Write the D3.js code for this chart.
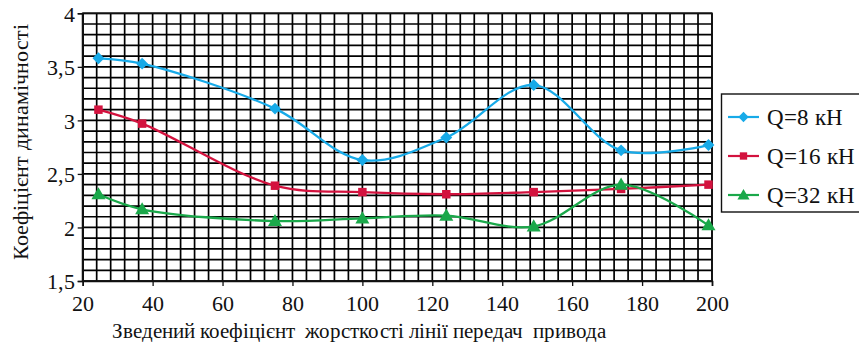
<!DOCTYPE html>
<html>
<head>
<meta charset="utf-8">
<style>
  @font-face { font-family: "ChartSerif"; src: local("Liberation Serif"), local("LiberationSerif"), local("Times New Roman"), local("Tinos"); font-weight: normal; font-style: normal; }
</style>
<script src="https://cdn.jsdelivr.net/npm/d3@7"></script>
</head>
<body style="margin:0;padding:0;background:#fff">
<svg id="chart" width="859" height="347" style="display:block"></svg>
<script>
// Reduced stiffness of the drive transmission line (x positions of measurements)
const stiffness = [24.5, 37, 75, 100, 124, 149, 174, 199];

// Dynamic coefficient for each load
const q8  = [3.58, 3.53, 3.11, 2.63, 2.84, 3.33, 2.72, 2.77];
const q16 = [3.10, 2.97, 2.39, 2.33, 2.31, 2.33, 2.36, 2.40];
const q32 = [2.31, 2.17, 2.06, 2.085, 2.11, 2.01, 2.40, 2.02];

const seriesNames = ["Q=8 кН", "Q=16 кН", "Q=32 кН"];
const xTicks = [20, 40, 60, 80, 100, 120, 140, 160, 180, 200];
const yTicks = [1.5, 2, 2.5, 3, 3.5, 4];

const FONT = "ChartSerif, \"Liberation Serif\", Tinos, \"Times New Roman\", FreeSerif, serif";

// Apply the serif face and size to a text selection
function serif(sel, size) {
  sel.each(function () {
    this.setAttribute("font-family", FONT);
    this.setAttribute("font-size", size);
    this.style.setProperty("font-family", FONT, "important");
    this.style.setProperty("font-size", size + "px", "important");
  });
  return sel;
}

const series = [
  { name: seriesNames[0], values: q8,  color: "#17aae8", symbol: d3.symbolDiamond2, size: 90 },
  { name: seriesNames[1], values: q16, color: "#d3123e", symbol: d3.symbolSquare,   size: 72 },
  { name: seriesNames[2], values: q32, color: "#1aa84a", symbol: d3.symbolTriangle, size: 85 }
];

const svg = d3.select("#chart");
const plotL = 82.7, plotR = 712, plotT = 13.3, plotB = 281;

const x = d3.scaleLinear().domain([20, 200]).range([plotL, plotR]);
const y = d3.scaleLinear().domain([1.5, 4]).range([plotB, plotT]);

// Fine grid: every 4 units horizontally, every 0.1 vertically
const grid = svg.append("g").attr("stroke", "#000").attr("stroke-width", 1.7);
d3.range(20, 200.001, 4).forEach(v => {
  grid.append("line").attr("x1", x(v)).attr("x2", x(v)).attr("y1", plotT).attr("y2", plotB);
});
d3.range(0, 26).forEach(i => {
  const v = 1.5 + i * 0.1;
  grid.append("line").attr("x1", plotL).attr("x2", plotR).attr("y1", y(v)).attr("y2", y(v));
});

// Axes
const fmt = d => d3.format("")(d).replace(".", ",");
const yAxis = svg.append("g")
  .attr("transform", `translate(${plotL},0)`)
  .call(d3.axisLeft(y).tickValues(yTicks).tickFormat(fmt).tickSize(5).tickPadding(3));
const xAxis = svg.append("g")
  .attr("transform", `translate(0,${plotB})`)
  .call(d3.axisBottom(x).tickValues(xTicks).tickSize(5).tickPadding(9));
[yAxis, xAxis].forEach(a => {
  a.attr("font-family", FONT).attr("font-size", 22);
  a.select(".domain").attr("stroke", "#111").attr("stroke-width", 1.6);
  a.selectAll(".tick line").attr("stroke", "#111").attr("stroke-width", 1.3);
  serif(a.selectAll("text"), 22).attr("fill", "#111");
});
yAxis.selectAll("text").attr("dy", "0.35em");

// Plot frame
svg.append("rect")
  .attr("x", plotL).attr("y", plotT).attr("width", plotR - plotL).attr("height", plotB - plotT)
  .attr("fill", "none").attr("stroke", "#111").attr("stroke-width", 1.6);

// Smoothed series lines and markers
const line = d3.line()
  .x((d, i) => x(stiffness[i]))
  .y(d => y(d))
  .curve(d3.curveCatmullRom.alpha(0.5));

series.forEach(s => {
  svg.append("path")
    .attr("d", line(s.values))
    .attr("fill", "none")
    .attr("stroke", s.color)
    .attr("stroke-width", 2.3);
  svg.append("g").selectAll("path")
    .data(s.values)
    .join("path")
    .attr("transform", (d, i) => `translate(${x(stiffness[i])},${y(d) + (s.symbol === d3.symbolTriangle ? 1 : 0)})`)
    .attr("d", d3.symbol(s.symbol, s.size))
    .attr("fill", s.color);
});

// Axis titles
serif(svg.append("text"), 22)
  .attr("transform", "translate(28,142) rotate(-90)")
  .attr("text-anchor", "middle")
  .attr("fill", "#111")
  .text("Коефіцієнт динамічності");

serif(svg.append("text"), 21)
  .attr("x", 359).attr("y", 338)
  .attr("text-anchor", "middle")
  .attr("fill", "#111")
  .style("white-space", "pre")
  .text("Зведений коефіцієнт  жорсткості лінії передач  привода");

// Legend
const lg = svg.append("g");
lg.append("rect")
  .attr("x", 721.5).attr("y", 94).attr("width", 160).attr("height", 118)
  .attr("fill", "#fff").attr("stroke", "#111").attr("stroke-width", 1.4);
series.forEach((s, i) => {
  const cy = 117 + i * 39;
  lg.append("line")
    .attr("x1", 728).attr("x2", 759).attr("y1", cy).attr("y2", cy)
    .attr("stroke", s.color).attr("stroke-width", 2.2);
  lg.append("path")
    .attr("transform", `translate(743.5,${cy + (s.symbol === d3.symbolTriangle ? 1 : 0)})`)
    .attr("d", d3.symbol(s.symbol, s.size * 0.75))
    .attr("fill", s.color);
  serif(lg.append("text"), 23)
    .attr("x", 767).attr("y", cy).attr("dy", "0.35em")
    .attr("fill", "#111")
    .text(s.name);
});
</script>
</body>
</html>
